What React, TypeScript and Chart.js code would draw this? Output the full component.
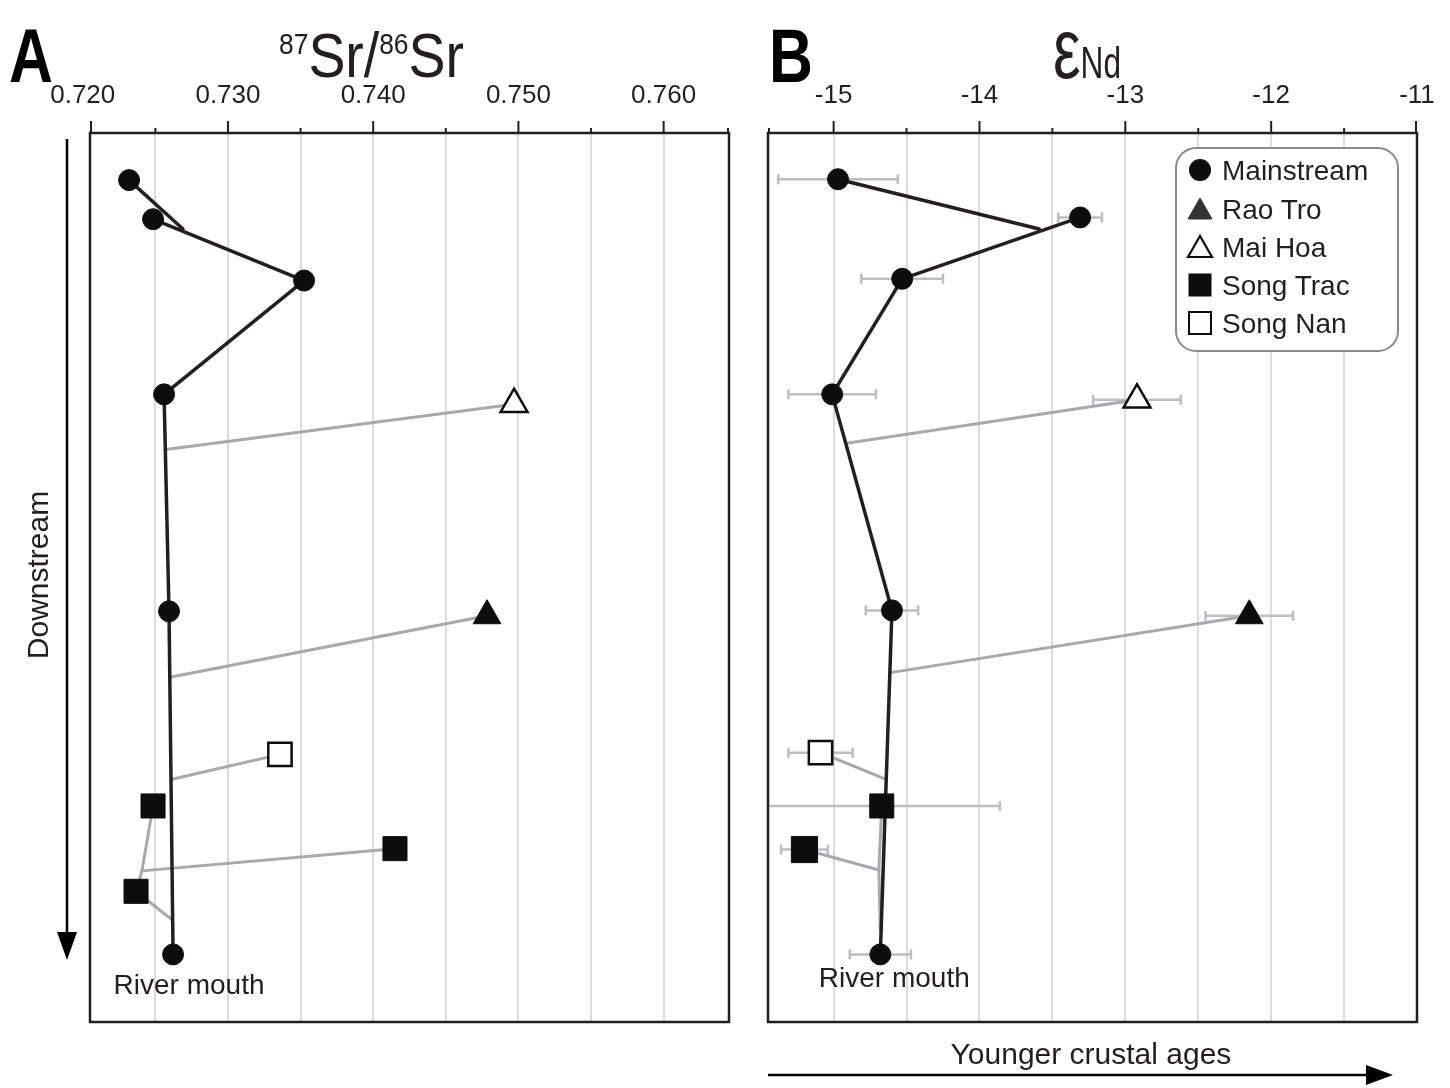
import React, { useEffect, useRef } from 'react';
import { Chart, registerables } from 'chart.js';

Chart.register(...registerables);

const FONT = "'Liberation Sans', Arial, Helvetica, sans-serif";
const INK = '#231f20';
const MARK = '#0d0d0d';
const TRIB = '#a7a9ac';
const ERR = '#bcbec0';
const GRID = '#dcdcdc';

const SERIES_NAMES = ['Mainstream', 'Rao Tro', 'Mai Hoa', 'Song Trac', 'Song Nan'];

// y = relative downstream position (0 = top of profile, 100 = bottom)

// ---------- Panel A : 87Sr/86Sr ----------
const SR_TICKS = [0.72, 0.725, 0.73, 0.735, 0.74, 0.745, 0.75, 0.755, 0.76, 0.765];
const SR_TICK_LABELS = ['0.720', '', '0.730', '', '0.740', '', '0.750', '', '0.760', ''];
const SR_MAIN = [0.72319, 0.72484, 0.73524, 0.7256, 0.72594, 0.72622];
const SR_MAIN_POS = [5.3, 9.7, 16.6, 29.4, 53.8, 92.4];
const SR_RAO_TRO = [0.74784];
const SR_RAO_TRO_POS = [54.3];
const SR_MAI_HOA = [0.7497];
const SR_MAI_HOA_POS = [30.5];
const SR_SONG_TRAC = [0.72484, 0.7415, 0.72367];
const SR_SONG_TRAC_POS = [75.7, 80.5, 85.3];
const SR_SONG_NAN = [0.73358];
const SR_SONG_NAN_POS = [69.9];
// confluences: upper branch, Mai Hoa, Rao Tro, Song Nan, Song Trac fork, Song Trac -> main
const SR_CONF = [0.7269, 0.72573, 0.72608, 0.72615, 0.72408, 0.72615];
const SR_CONF_POS = [10.8, 35.6, 61.2, 72.7, 83.0, 88.5];

// ---------- Panel B : eNd ----------
const ND_TICKS = [-15.5, -15, -14.5, -14, -13.5, -13, -12.5, -12, -11.5, -11];
const ND_TICK_LABELS = ['', '-15', '', '-14', '', '-13', '', '-12', '', '-11'];
const ND_MAIN = [-14.97, -13.31, -14.53, -15.01, -14.6, -14.68];
const ND_MAIN_ERR = [0.41, 0.15, 0.28, 0.3, 0.18, 0.21];
const ND_MAIN_POS = [5.2, 9.5, 16.4, 29.4, 53.7, 92.4];
const ND_RAO_TRO = [-12.15];
const ND_RAO_TRO_ERR = [0.3];
const ND_RAO_TRO_POS = [54.3];
const ND_MAI_HOA = [-12.92];
const ND_MAI_HOA_ERR = [0.3];
const ND_MAI_HOA_POS = [30.0];
const ND_SONG_TRAC = [-14.67, -15.2];
const ND_SONG_TRAC_ERR = [0.81, 0.16];
const ND_SONG_TRAC_POS = [75.7, 80.6];
const ND_SONG_NAN = [-15.09];
const ND_SONG_NAN_ERR = [0.22];
const ND_SONG_NAN_POS = [69.7];
const ND_CONF = [-13.59, -14.91, -14.61, -14.64, -14.69, -14.68];
const ND_CONF_POS = [10.8, 34.9, 60.7, 72.7, 82.9, 89.6];

type Pt = { x: number; y: number };
const pts = (xs: number[], ys: number[]): Pt[] => xs.map((x, i) => ({ x, y: ys[i] }));

interface Spec {
  xMin: number;
  xMax: number;
  ticks: number[];
  tickLabels: string[];
  main: Pt[];
  raoTro: Pt[];
  maiHoa: Pt[];
  songTrac: Pt[];
  songTracR: number[];
  songNan: Pt[];
  black: Pt[][];
  gray: Pt[][];
  errors: { p: Pt[]; e: number[] }[];
  mouthDx: number;
  mouthDy: number;
  pad: { left: number; right: number; top: number; bottom: number };
  width: number;
  left: number;
}

function buildA(): Spec {
  const main = pts(SR_MAIN, SR_MAIN_POS);
  const conf = pts(SR_CONF, SR_CONF_POS);
  const st = pts(SR_SONG_TRAC, SR_SONG_TRAC_POS);
  const mh = pts(SR_MAI_HOA, SR_MAI_HOA_POS);
  const rt = pts(SR_RAO_TRO, SR_RAO_TRO_POS);
  const sn = pts(SR_SONG_NAN, SR_SONG_NAN_POS);
  return {
    xMin: 0.7205,
    xMax: 0.7645,
    ticks: SR_TICKS,
    tickLabels: SR_TICK_LABELS,
    main,
    raoTro: rt,
    maiHoa: mh,
    songTrac: st,
    songTracR: [17, 17, 17],
    songNan: sn,
    black: [main.slice(1), [main[0], conf[0]]],
    gray: [
      [mh[0], conf[1]],
      [rt[0], conf[2]],
      [sn[0], conf[3]],
      [st[0], conf[4]],
      [st[1], conf[4]],
      [conf[4], st[2], conf[5]],
    ],
    errors: [],
    mouthDx: 16,
    mouthDy: 40,
    pad: { left: 90, right: 11, top: 83, bottom: 66 },
    width: 740,
    left: 0,
  };
}

function buildB(): Spec {
  const main = pts(ND_MAIN, ND_MAIN_POS);
  const conf = pts(ND_CONF, ND_CONF_POS);
  const st = pts(ND_SONG_TRAC, ND_SONG_TRAC_POS);
  const mh = pts(ND_MAI_HOA, ND_MAI_HOA_POS);
  const rt = pts(ND_RAO_TRO, ND_RAO_TRO_POS);
  const sn = pts(ND_SONG_NAN, ND_SONG_NAN_POS);
  return {
    xMin: -15.45,
    xMax: -11,
    ticks: ND_TICKS,
    tickLabels: ND_TICK_LABELS,
    main,
    raoTro: rt,
    maiHoa: mh,
    songTrac: st,
    songTracR: [17, 18.5],
    songNan: sn,
    black: [main.slice(1), [main[0], conf[0]]],
    gray: [
      [mh[0], conf[1]],
      [rt[0], conf[2]],
      [sn[0], conf[3]],
      [st[0], conf[4]],
      [st[1], conf[4]],
      [conf[4], conf[5]],
    ],
    errors: [
      { p: main, e: ND_MAIN_ERR },
      { p: mh, e: ND_MAI_HOA_ERR },
      { p: rt, e: ND_RAO_TRO_ERR },
      { p: sn, e: ND_SONG_NAN_ERR },
      { p: st, e: ND_SONG_TRAC_ERR },
    ],
    mouthDx: 14,
    mouthDy: 33,
    pad: { left: 28, right: 33, top: 83, bottom: 66 },
    width: 710,
    left: 740,
  };
}

function decor(spec: Spec) {
  return {
    id: 'decor',
    beforeDatasetsDraw(chart: any) {
      const { ctx, chartArea: a } = chart;
      const xs = chart.scales.x;
      const ys = chart.scales.y;
      ctx.save();
      ctx.beginPath();
      ctx.rect(a.left, a.top, a.right - a.left, a.bottom - a.top);
      ctx.clip();
      ctx.strokeStyle = ERR;
      ctx.lineWidth = 2.5;
      spec.errors.forEach(({ p, e }) =>
        p.forEach((q, i) => {
          const x1 = xs.getPixelForValue(q.x - e[i]);
          const x2 = xs.getPixelForValue(q.x + e[i]);
          const py = ys.getPixelForValue(q.y);
          ctx.beginPath();
          ctx.moveTo(x1, py);
          ctx.lineTo(x2, py);
          ctx.moveTo(x1, py - 5);
          ctx.lineTo(x1, py + 5);
          ctx.moveTo(x2, py - 5);
          ctx.lineTo(x2, py + 5);
          ctx.stroke();
        })
      );
      ctx.restore();
    },
    afterDraw(chart: any) {
      const { ctx, chartArea: a } = chart;
      const xs = chart.scales.x;
      const ys = chart.scales.y;
      ctx.save();
      // tick marks
      ctx.strokeStyle = INK;
      ctx.lineWidth = 2;
      spec.ticks.forEach((v, i) => {
        let px = xs.getPixelForValue(v);
        px = Math.min(Math.max(px, a.left + 1), a.right - 1);
        const len = spec.tickLabels[i] ? 12 : 5;
        ctx.beginPath();
        ctx.moveTo(px, a.top);
        ctx.lineTo(px, a.top - len);
        ctx.stroke();
      });
      // frame
      ctx.lineWidth = 2.5;
      ctx.strokeRect(a.left, a.top, a.right - a.left, a.bottom - a.top);
      // river mouth label
      const last = spec.main[spec.main.length - 1];
      ctx.fillStyle = INK;
      ctx.font = `28px ${FONT}`;
      ctx.textAlign = 'center';
      ctx.textBaseline = 'alphabetic';
      ctx.fillText(
        'River mouth',
        xs.getPixelForValue(last.x) + spec.mouthDx,
        ys.getPixelForValue(last.y) + spec.mouthDy
      );
      ctx.restore();
    },
  };
}

function config(spec: Spec): any {
  const seg = (d: Pt[], color: string, w: number, order: number) => ({
    data: d,
    showLine: true,
    borderColor: color,
    borderWidth: w,
    pointRadius: 0,
    fill: false,
    tension: 0,
    borderCapStyle: 'round',
    borderJoinStyle: 'round',
    order,
  });
  const datasets: any[] = [
    {
      label: SERIES_NAMES[0],
      data: spec.main,
      pointStyle: 'circle',
      pointRadius: 10.5,
      backgroundColor: MARK,
      borderColor: MARK,
      borderWidth: 1,
      order: 0,
    },
    {
      label: SERIES_NAMES[1],
      data: spec.raoTro,
      pointStyle: 'triangle',
      pointRadius: 16,
      backgroundColor: MARK,
      borderColor: MARK,
      borderWidth: 1,
      order: 0,
    },
    {
      label: SERIES_NAMES[2],
      data: spec.maiHoa,
      pointStyle: 'triangle',
      pointRadius: 15.5,
      backgroundColor: '#ffffff',
      borderColor: MARK,
      borderWidth: 2.5,
      order: 0,
    },
    {
      label: SERIES_NAMES[3],
      data: spec.songTrac,
      pointStyle: 'rect',
      pointRadius: spec.songTracR,
      backgroundColor: MARK,
      borderColor: MARK,
      borderWidth: 1,
      order: 0,
    },
    {
      label: SERIES_NAMES[4],
      data: spec.songNan,
      pointStyle: 'rect',
      pointRadius: 16.5,
      backgroundColor: '#ffffff',
      borderColor: MARK,
      borderWidth: 2.5,
      order: 0,
    },
    ...spec.black.map((d) => seg(d, INK, 3.5, 1)),
    ...spec.gray.map((d) => seg(d, TRIB, 3, 2)),
  ];
  return {
    type: 'scatter',
    data: { datasets },
    options: {
      responsive: false,
      animation: false,
      devicePixelRatio: 1,
      events: [],
      layout: { padding: spec.pad, autoPadding: false },
      plugins: { legend: { display: false }, tooltip: { enabled: false } },
      scales: {
        x: {
          type: 'linear',
          position: 'top',
          min: spec.xMin,
          max: spec.xMax,
          afterBuildTicks: (s: any) => {
            s.ticks = spec.ticks.map((v) => ({ value: v }));
          },
          afterFit: (s: any) => {
            s.height = 50;
            s.paddingLeft = 0;
            s.paddingRight = 0;
          },
          border: { display: false },
          grid: {
            drawTicks: false,
            lineWidth: 2,
            color: (c: any) =>
              c.tick && (c.tick.value < spec.xMin - 1e-9 || c.tick.value > spec.xMax + 1e-9)
                ? 'rgba(0,0,0,0)'
                : GRID,
          },
          ticks: {
            autoSkip: false,
            maxRotation: 0,
            minRotation: 0,
            padding: 22,
            color: INK,
            font: { family: FONT, size: 26 },
            callback: (_v: any, i: number) => spec.tickLabels[i],
          },
        },
        y: { type: 'linear', min: 0, max: 100, reverse: true, display: false },
      },
    },
    plugins: [decor(spec)],
  };
}

function Panel({ spec }: { spec: Spec }) {
  const ref = useRef<HTMLCanvasElement>(null);
  useEffect(() => {
    const chart = new Chart(ref.current as HTMLCanvasElement, config(spec));
    return () => chart.destroy();
  }, [spec]);
  return (
    <canvas
      ref={ref}
      width={spec.width}
      height={1088}
      style={{ position: 'absolute', left: spec.left, top: 0, width: spec.width, height: 1088 }}
    />
  );
}

const SPEC_A = buildA();
const SPEC_B = buildB();

const LEGEND_Y = [170, 209, 247, 285, 323];

function LegendMarker({ i, cy }: { i: number; cy: number }) {
  const cx = 1200;
  if (i === 0) return <circle cx={cx} cy={cy} r={11} fill={MARK} />;
  if (i === 1 || i === 2)
    return (
      <polygon
        points={`${cx - 12},${cy + 10} ${cx + 12},${cy + 10} ${cx},${cy - 11}`}
        fill={i === 1 ? '#333133' : '#fff'}
        stroke={i === 1 ? '#333133' : MARK}
        strokeWidth={i === 1 ? 1 : 2.2}
      />
    );
  return (
    <rect
      x={cx - 11}
      y={cy - 11}
      width={22}
      height={22}
      fill={i === 3 ? MARK : '#fff'}
      stroke={MARK}
      strokeWidth={i === 3 ? 1 : 2}
    />
  );
}

function Overlay() {
  return (
    <svg
      width={1450}
      height={1088}
      style={{ position: 'absolute', left: 0, top: 0, pointerEvents: 'none' }}
      fontFamily={FONT}
    >
      <text transform="translate(9,82) scale(0.8,1)" fontSize={76} fontWeight="bold" fill="#000">
        A
      </text>
      <text transform="translate(769,82) scale(0.8,1)" fontSize={76} fontWeight="bold" fill="#000">
        B
      </text>
      <text transform="translate(371.5,77) scale(0.88,1)" textAnchor="middle" fill={INK}>
        <tspan fontSize={30} dy={-23}>87</tspan>
        <tspan fontSize={63} dy={23}>Sr/</tspan>
        <tspan fontSize={30} dy={-23}>86</tspan>
        <tspan fontSize={63} dy={23}>Sr</tspan>
      </text>
      <text transform="translate(1053,78) scale(0.72,1)" fill={INK}>
        <tspan fontSize={86}>ε</tspan>
        <tspan fontSize={44}>Nd</tspan>
      </text>
      <text transform="translate(48,575) rotate(-90)" textAnchor="middle" fontSize={30} fill={INK}>
        Downstream
      </text>
      <line x1={67} y1={139} x2={67} y2={936} stroke="#000" strokeWidth={2.5} />
      <polygon points="57,932 77,932 67,960" fill="#000" />
      <text x={1091} y={1064} textAnchor="middle" fontSize={30} fill={INK}>
        Younger crustal ages
      </text>
      <line x1={768} y1={1075} x2={1372} y2={1075} stroke="#000" strokeWidth={2.5} />
      <polygon points="1366,1065 1366,1085 1393,1075" fill="#000" />
      <rect x={1176} y={148} width={222} height={203} rx={20} ry={20} fill="#fff" stroke="#8a8a8a" strokeWidth={2} />
      {SERIES_NAMES.map((n, i) => (
        <g key={n}>
          <LegendMarker i={i} cy={LEGEND_Y[i]} />
          <text x={1222} y={LEGEND_Y[i] + 10} fontSize={28} fill={INK}>
            {n}
          </text>
        </g>
      ))}
    </svg>
  );
}

export default function App() {
  return (
    <div style={{ position: 'absolute', left: 0, top: 0, width: 1450, height: 1088, background: '#fff' }}>
      <Panel spec={SPEC_A} />
      <Panel spec={SPEC_B} />
      <Overlay />
    </div>
  );
}
